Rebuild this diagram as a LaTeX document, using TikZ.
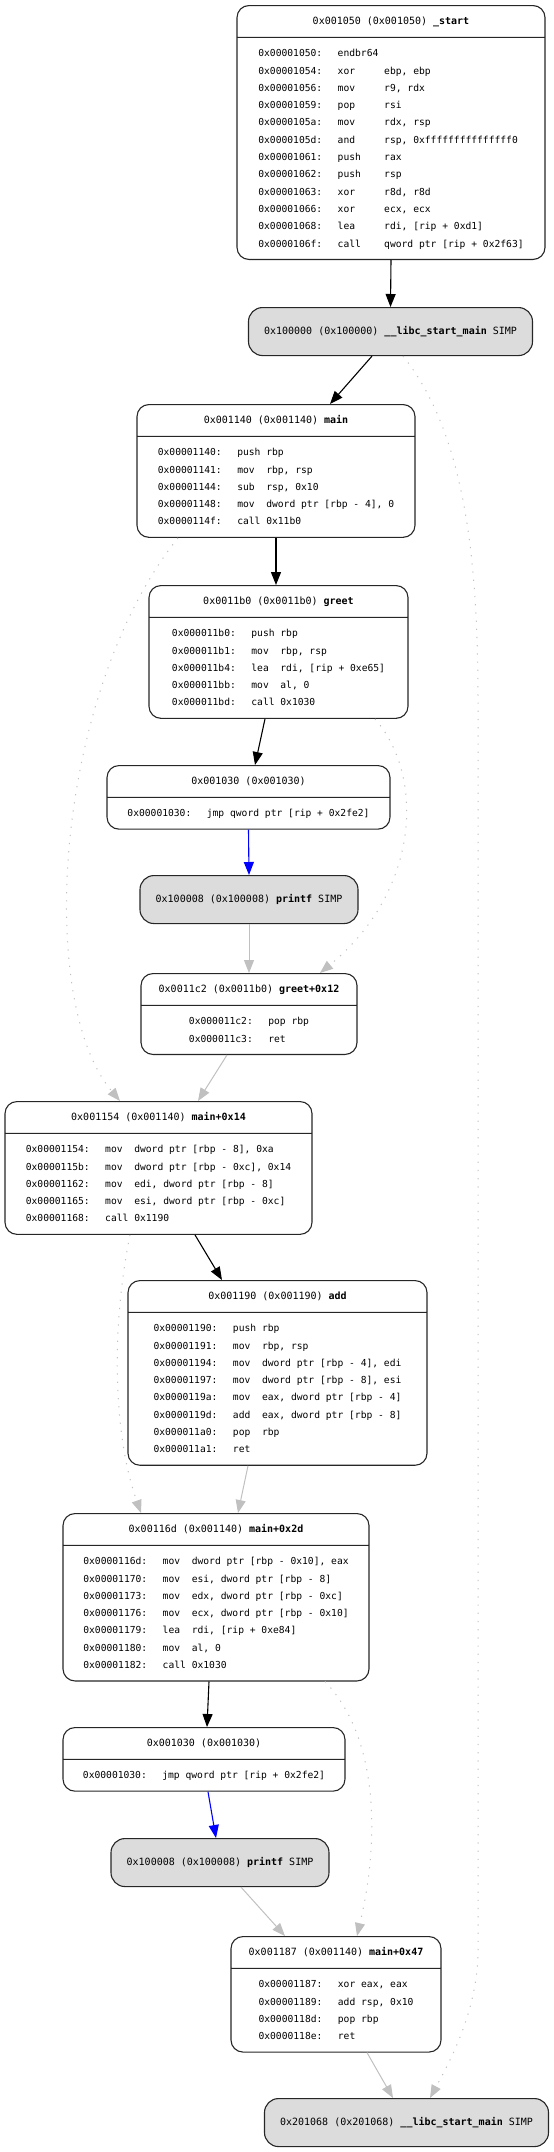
\documentclass[tikz,border=0pt]{standalone}
\usepackage{fontspec}
\setmonofont{DejaVu Sans Mono}
\usetikzlibrary{shapes.multipart,arrows.meta}
\definecolor{simpgray}{HTML}{DCDCDC}
\definecolor{retgray}{HTML}{C0C0C0}
\newcommand\asmlines[1]{{\fontsize{9.65}{17.3}\selectfont\begin{tabular}{@{}l@{\hspace{15.5pt}}l@{}}#1\end{tabular}}}
\newcommand\blocktitle[2]{\strut#1 \textbf{#2}}

\begin{document}
\begin{tikzpicture}[x=1pt,y=-1pt,
    blk/.style={rectangle split,rectangle split parts=2,draw=black!85,line width=1.1pt,
      rounded corners=12pt,font=\ttfamily\fontsize{10}{17.3}\selectfont,
      inner xsep=0pt,inner ysep=6.7pt,anchor=north},
    simp/.style={draw=black!85,fill=simpgray,line width=1.1pt,rounded corners=14pt,
      font=\ttfamily\fontsize{10}{17.3}\selectfont,minimum height=48pt,anchor=north},
    call/.style={-{Triangle[length=13pt,width=10pt]},line width=1.1pt},
    jmp/.style={call,blue},
    ret/.style={-{Triangle[length=13pt,width=10pt]},retgray,line width=1pt},
    fall/.style={ret,dash pattern=on 1.2pt off 7pt}]
  \useasboundingbox (0,0) rectangle (554,2152);

  \node[blk,minimum width=308pt] (start) at (391,5) {\blocktitle{0x001050 (0x001050)}{\_start}
    \nodepart{two}\asmlines{
      0x00001050: & endbr64\\
      0x00001054: & xor~~~~~ebp, ebp\\
      0x00001056: & mov~~~~~r9, rdx\\
      0x00001059: & pop~~~~~rsi\\
      0x0000105a: & mov~~~~~rdx, rsp\\
      0x0000105d: & and~~~~~rsp, 0xfffffffffffffff0\\
      0x00001061: & push~~~~rax\\
      0x00001062: & push~~~~rsp\\
      0x00001063: & xor~~~~~r8d, r8d\\
      0x00001066: & xor~~~~~ecx, ecx\\
      0x00001068: & lea~~~~~rdi, [rip + 0xd1]\\
      0x0000106f: & call~~~~qword ptr [rip + 0x2f63]}};
  \node[simp,minimum width=284pt] (libc1) at (390.5,307) {0x100000 (0x100000) \textbf{\_\_libc\_start\_main} SIMP};
  \node[blk,minimum width=278pt] (main) at (276,404) {\blocktitle{0x001140 (0x001140)}{main}
    \nodepart{two}\asmlines{
      0x00001140: & push rbp\\
      0x00001141: & mov~~rbp, rsp\\
      0x00001144: & sub~~rsp, 0x10\\
      0x00001148: & mov~~dword ptr [rbp - 4], 0\\
      0x0000114f: & call 0x11b0}};
  \node[blk,minimum width=259pt] (greet) at (278.5,585) {\blocktitle{0x0011b0 (0x0011b0)}{greet}
    \nodepart{two}\asmlines{
      0x000011b0: & push rbp\\
      0x000011b1: & mov~~rbp, rsp\\
      0x000011b4: & lea~~rdi, [rip + 0xe65]\\
      0x000011bb: & mov~~al, 0\\
      0x000011bd: & call 0x1030}};
  \node[blk,minimum width=283pt] (plt1) at (248.5,765) {\strut 0x001030 (0x001030)
    \nodepart{two}\asmlines{0x00001030: & jmp qword ptr [rip + 0x2fe2]}};
  \node[simp,minimum width=218pt] (printf1) at (249,875) {0x100008 (0x100008) \textbf{printf} SIMP};
  \node[blk,minimum width=216pt] (greet12) at (249,973) {\blocktitle{0x0011c2 (0x0011b0)}{greet+0x12}
    \nodepart{two}\asmlines{
      0x000011c2: & pop rbp\\
      0x000011c3: & ret}};
  \node[blk,minimum width=307pt] (main14) at (158.5,1101) {\blocktitle{0x001154 (0x001140)}{main+0x14}
    \nodepart{two}\asmlines{
      0x00001154: & mov~~dword ptr [rbp - 8], 0xa\\
      0x0000115b: & mov~~dword ptr [rbp - 0xc], 0x14\\
      0x00001162: & mov~~edi, dword ptr [rbp - 8]\\
      0x00001165: & mov~~esi, dword ptr [rbp - 0xc]\\
      0x00001168: & call 0x1190}};
  \node[blk,minimum width=299pt] (add) at (277.5,1280) {\blocktitle{0x001190 (0x001190)}{add}
    \nodepart{two}\asmlines{
      0x00001190: & push rbp\\
      0x00001191: & mov~~rbp, rsp\\
      0x00001194: & mov~~dword ptr [rbp - 4], edi\\
      0x00001197: & mov~~dword ptr [rbp - 8], esi\\
      0x0000119a: & mov~~eax, dword ptr [rbp - 4]\\
      0x0000119d: & add~~eax, dword ptr [rbp - 8]\\
      0x000011a0: & pop~~rbp\\
      0x000011a1: & ret}};
  \node[blk,minimum width=306pt] (main2d) at (216,1513) {\blocktitle{0x00116d (0x001140)}{main+0x2d}
    \nodepart{two}\asmlines{
      0x0000116d: & mov~~dword ptr [rbp - 0x10], eax\\
      0x00001170: & mov~~esi, dword ptr [rbp - 8]\\
      0x00001173: & mov~~edx, dword ptr [rbp - 0xc]\\
      0x00001176: & mov~~ecx, dword ptr [rbp - 0x10]\\
      0x00001179: & lea~~rdi, [rip + 0xe84]\\
      0x00001180: & mov~~al, 0\\
      0x00001182: & call 0x1030}};
  \node[blk,minimum width=282pt] (plt2) at (204,1727) {\strut 0x001030 (0x001030)
    \nodepart{two}\asmlines{0x00001030: & jmp qword ptr [rip + 0x2fe2]}};
  \node[simp,minimum width=218pt] (printf2) at (220,1838) {0x100008 (0x100008) \textbf{printf} SIMP};
  \node[blk,minimum width=210pt] (main47) at (336,1936) {\blocktitle{0x001187 (0x001140)}{main+0x47}
    \nodepart{two}\asmlines{
      0x00001187: & xor eax, eax\\
      0x00001189: & add rsp, 0x10\\
      0x0000118d: & pop rbp\\
      0x0000118e: & ret}};
  \node[simp,minimum width=284pt] (libc2) at (406.5,2098) {0x201068 (0x201068) \textbf{\_\_libc\_start\_main} SIMP};

  \coordinate (sideA) at (478,700);
  \coordinate (sideB) at (478,1950);

  \draw[call] (start.south) -- (libc1.north);
  \draw[call] ([xshift=-18.5pt]libc1.south) -- ([xshift=54pt]main.north);
  \draw[fall] ([xshift=12.5pt]libc1.south) .. controls +(62,77) and +(0,-140) .. (sideA)
    -- (sideB) .. controls +(0,60) and +(20,-37) .. ([xshift=23.5pt]libc2.north);
  \draw[call] (main.south) -- (greet.north -| main.south);
  \draw[fall] ([xshift=-98pt]main.south) .. controls +(-123,154) and +(-85,-101) .. ([xshift=-38.5pt]main14.north);
  \draw[call] ([xshift=-13.5pt]greet.south) -- ([xshift=6.5pt]plt1.north);
  \draw[fall] ([xshift=96.5pt]greet.south) .. controls +(50,57) and +(100,-82) .. ([xshift=71pt]greet12.north);
  \draw[jmp] (plt1.south) -- (printf1.north);
  \draw[ret] (printf1.south) -- (greet12.north);
  \draw[ret] ([xshift=-22pt]greet12.south) -- ([xshift=39.5pt]main14.north);
  \draw[call] ([xshift=36.5pt]main14.south) -- ([xshift=-55.5pt]add.north);
  \draw[fall] ([xshift=-28.5pt]main14.south) .. controls +(-18,88) and +(-29,-82) .. ([xshift=-75pt]main2d.north);
  \draw[ret] ([xshift=-29.5pt]add.south) -- ([xshift=22pt]main2d.north);
  \draw[call] ([xshift=-7pt]main2d.south) -- ([xshift=3pt]plt2.north);
  \draw[fall] ([xshift=109pt]main2d.south) .. controls +(50,52) and +(25,-106) .. ([xshift=21pt]main47.north);
  \draw[jmp] ([xshift=4pt]plt2.south) -- ([xshift=-4pt]printf2.north);
  \draw[ret] ([xshift=21pt]printf2.south) -- ([xshift=-51pt]main47.north);
  \draw[ret] ([xshift=31pt]main47.south) -- ([xshift=-13.5pt]libc2.north);
\end{tikzpicture}
\end{document}
